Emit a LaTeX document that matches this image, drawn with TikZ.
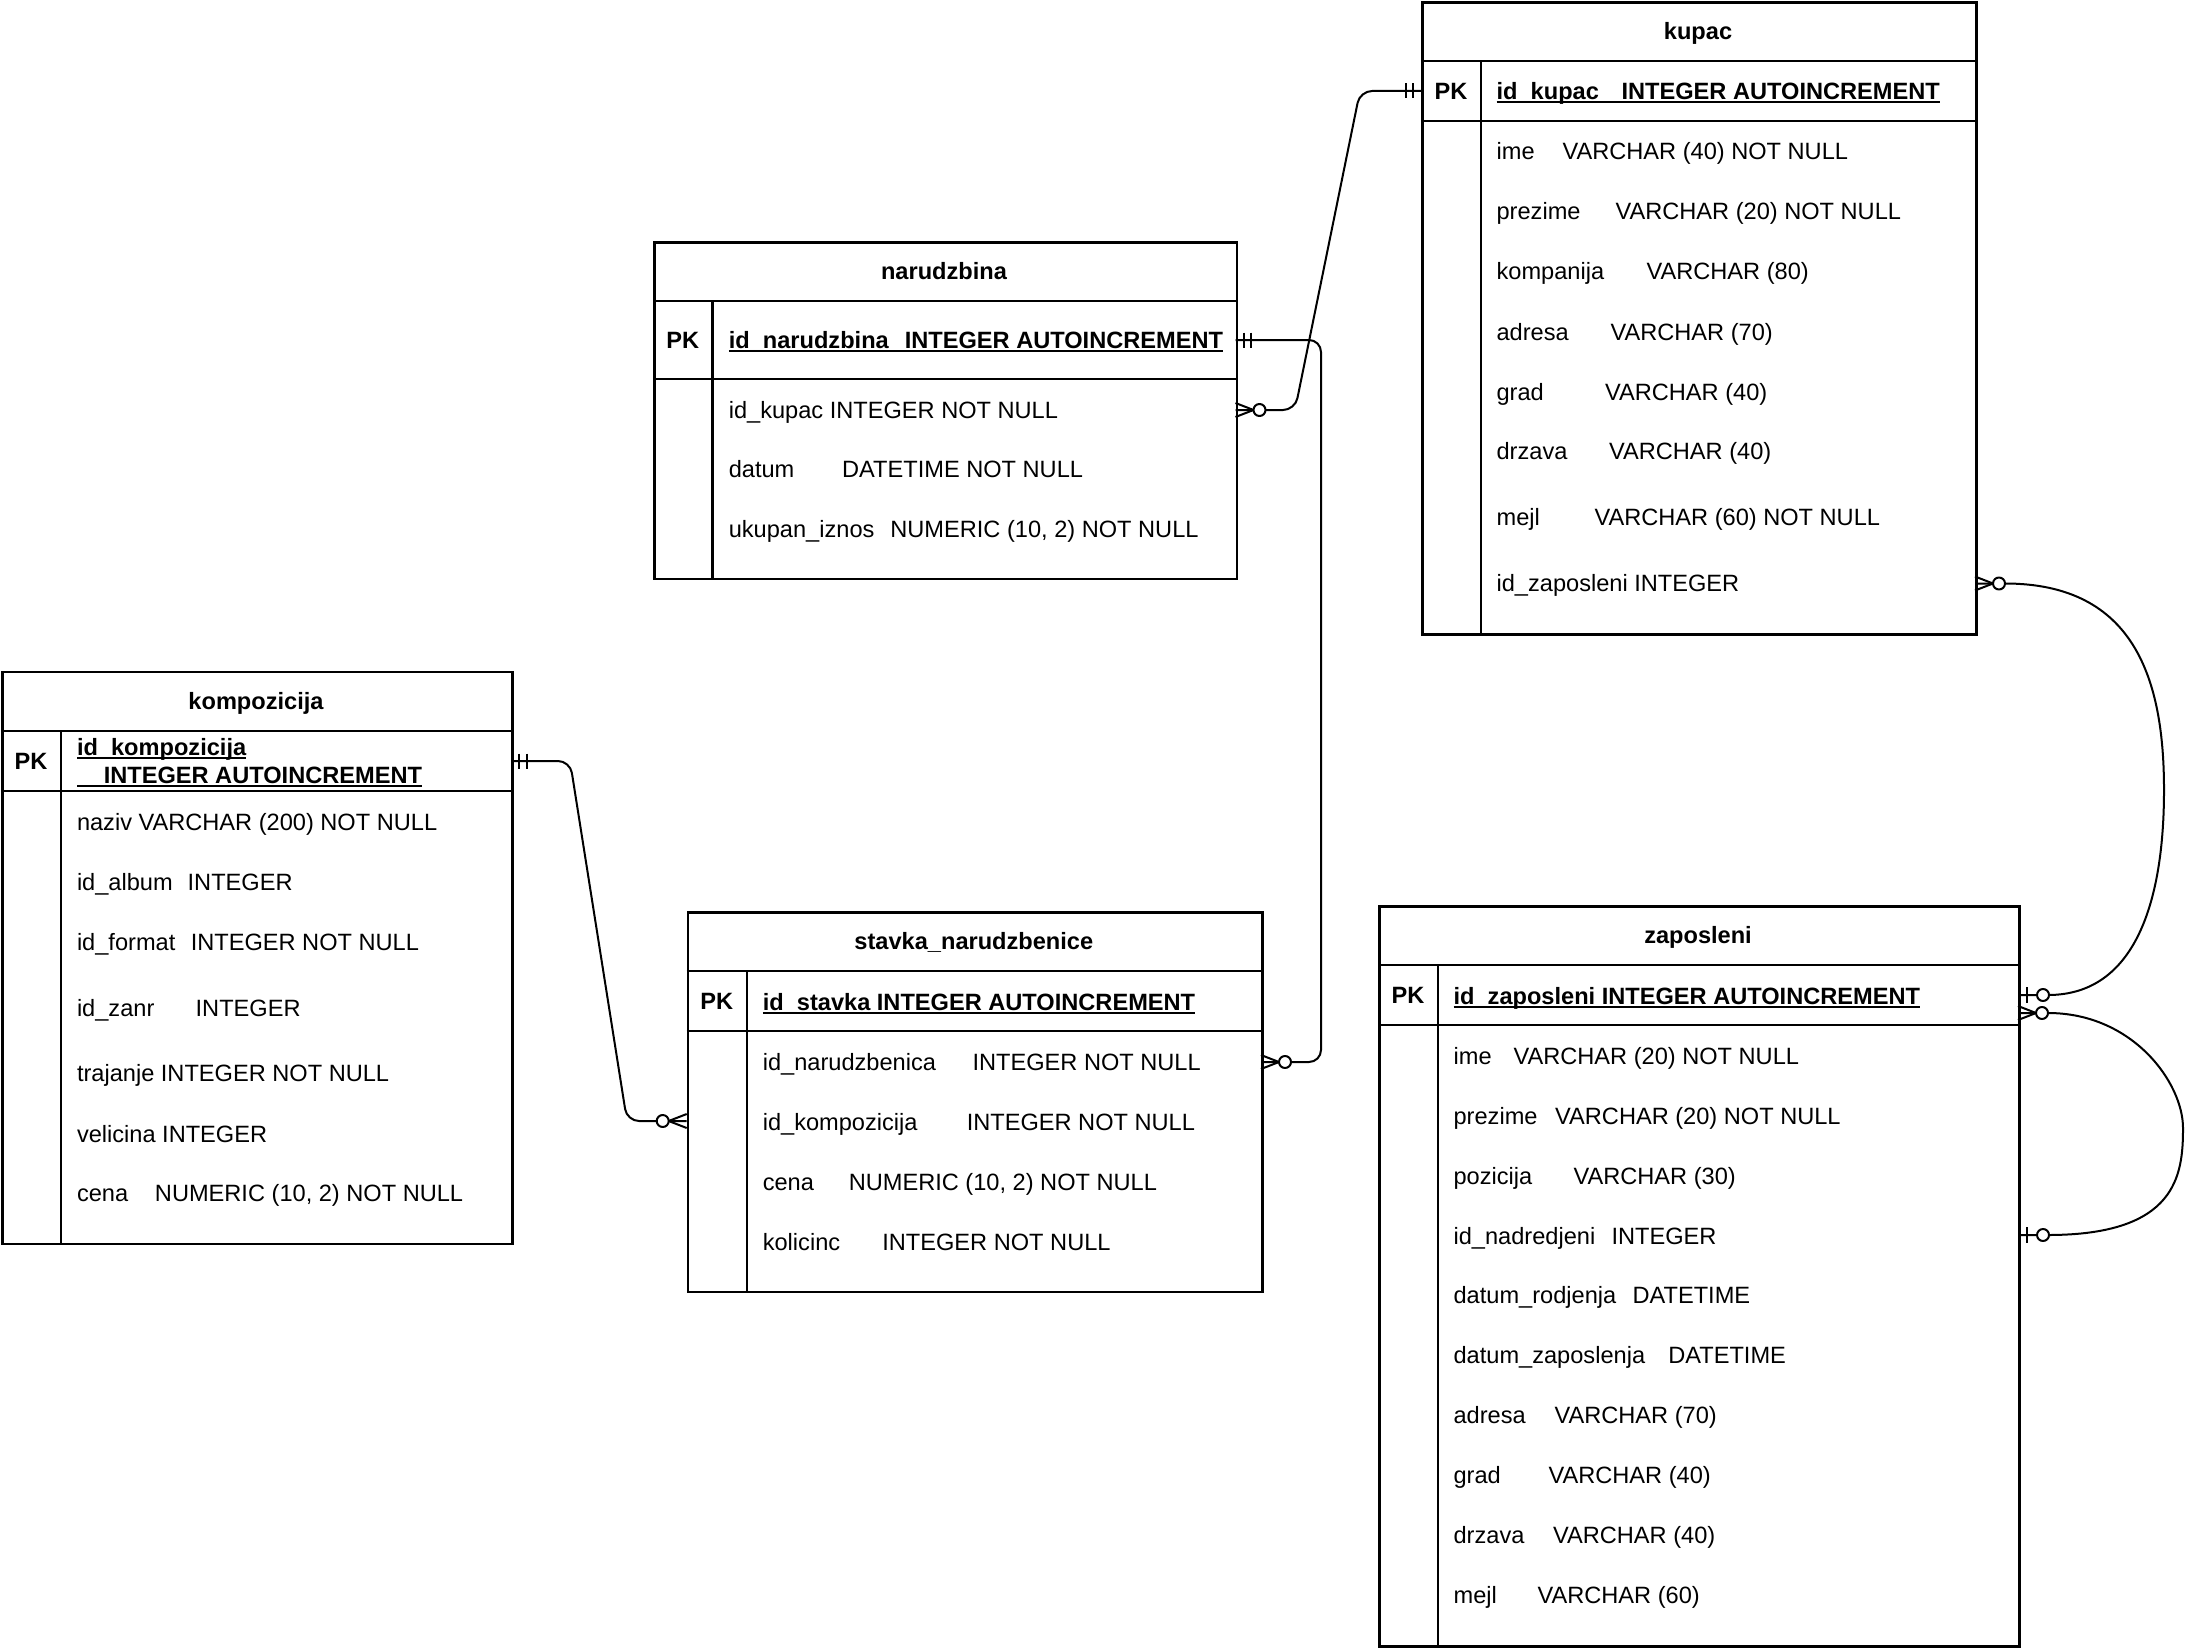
\documentclass[tikz,border=0pt]{standalone}
\usepackage{fontspec}
\setmainfont{Liberation Sans}
\usetikzlibrary{calc}
\newcommand\fsz{\fontsize{23.6}{28.3}\selectfont}
\newcommand\pkul[1]{\setbox0=\hbox{#1}\rlap{\rule[-3.6pt]{\wd0}{1.8pt}}\box0}
\newcommand\mandone[2]{%
  \draw[conn] ($(#1)+(#2*8,-7.5)$) -- ++(0,15);
  \draw[conn] ($(#1)+(#2*15.5,-7.5)$) -- ++(0,15);}
\newcommand\zeromany[2]{%
  \draw[conn] ($(#1)+(0,-7)$) -- ($(#1)+(#2*18,0)$) -- ($(#1)+(0,7)$);
  \draw[conn,fill=white] ($(#1)+(#2*24,0)$) circle[radius=6pt];}
\newcommand\zeroone[2]{%
  \draw[conn] ($(#1)+(#2*9,-8)$) -- ++(0,16);
  \draw[conn,fill=white] ($(#1)+(#2*25,0)$) circle[radius=6pt];}
\begin{document}
\begin{tikzpicture}[x=1pt,y=-1pt,
  tbl/.style={draw, line width=2.6pt, rectangle, inner sep=0pt, anchor=north west},
  sep/.style={line width=2.4pt},
  conn/.style={line width=2pt, line join=round},
  cell/.style={anchor=base west, inner sep=0pt, font=\fsz},
  hdr/.style={anchor=base, inner sep=0pt, font=\fsz\bfseries}]
\useasboundingbox[fill=white] (0,0) rectangle (2186,1648);

% ---------- connection points ----------
\coordinate (nK) at (1235.5,410);
\coordinate (kPK) at (1421,91);
\coordinate (nPK) at (1235.5,340);
\coordinate (sN) at (1261,1062);
\coordinate (koPK) at (511,761);
\coordinate (sK) at (686.7,1121);
\coordinate (kZ) at (1975,583.5);
\coordinate (zPK1) at (2018,995);
\coordinate (zPK2) at (2018,1013);
\coordinate (zN) at (2018,1235);

% ---------- connectors ----------
\draw[conn, rounded corners=12pt] (nK) -- (1295,410) -- (1360,91) -- (kPK);
\draw[conn, rounded corners=12pt] (nPK) -- (1321,340) -- (1321,1062) -- (sN);
\draw[conn, rounded corners=12pt] (koPK) -- (570,761) -- (627,1121) -- (sK);
\draw[conn] (kZ) -- (2005,583.5) .. controls (2135,583.5) and (2164,680) .. (2164,790)
  .. controls (2164,900) and (2136,995) .. (2048,995) -- (zPK1);
\draw[conn] (zPK2) -- (2048,1013) .. controls (2133,1013) and (2183,1083) .. (2183,1128)
  .. controls (2183,1175) and (2177,1235) .. (2048,1235) -- (zN);

% ---------- markers ----------
\zeromany{nK}{1}
\mandone{kPK}{-1}
\mandone{nPK}{1}
\zeromany{sN}{1}
\mandone{koPK}{1}
\zeromany{sK}{-1}
\zeromany{kZ}{1}
\zeroone{zPK1}{1}
\zeromany{zPK2}{1}
\zeroone{zN}{1}

% ---------- kupac ----------
\node[tbl, minimum width=554pt, minimum height=631.5pt] (kupac) at (1421,1.5) {};
\draw[sep] (1421,61) -- (1975,61);
\draw[sep] (1421,121) -- (1975,121);
\draw[sep] (1481,61) -- (1481,633);
\node[hdr] (kuH) at (1698,39.75) {kupac};
\node[hdr] (kuPK) at (1451,99.5) {PK};
\node[cell] (ku0) at (1496.4,99.5) {\bfseries\pkul{\makebox[125pt][l]{id\_kupac}INTEGER AUTOINCREMENT}};
\node[cell] (ku1) at (1496.4,159.5) {\makebox[66pt][l]{ime}VARCHAR (40) NOT NULL};
\node[cell] (ku2) at (1496.4,219.5) {\makebox[119pt][l]{prezime}VARCHAR (20) NOT NULL};
\node[cell] (ku3) at (1496.4,279.5) {\makebox[150pt][l]{kompanija}VARCHAR (80)};
\node[cell] (ku4) at (1496.4,340) {\makebox[114pt][l]{adresa}VARCHAR (70)};
\node[cell] (ku5) at (1496.4,400) {\makebox[108.5pt][l]{grad}VARCHAR (40)};
\node[cell] (ku6) at (1496.4,459.5) {\makebox[112.5pt][l]{drzava}VARCHAR (40)};
\node[cell] (ku7) at (1496.4,525) {\makebox[98pt][l]{mejl}VARCHAR (60) NOT NULL};
\node[cell] (ku8) at (1496.4,591.5) {id\_zaposleni INTEGER};

% ---------- narudzbina ----------
\node[tbl, minimum width=582.5pt, minimum height=336.7pt] (narudzbina) at (653,241) {};
\draw[sep] (653,301) -- (1235.5,301);
\draw[sep] (653,379) -- (1235.5,379);
\draw[sep] (712.5,301) -- (712.5,577.7);
\node[hdr] (naH) at (944,279.5) {narudzbina};
\node[hdr] (naPK) at (682.75,348.5) {PK};
\node[cell] (na0) at (728.6,348.5) {\bfseries\pkul{\makebox[176pt][l]{id\_narudzbina}INTEGER AUTOINCREMENT}};
\node[cell] (na1) at (728.6,418.5) {id\_kupac INTEGER NOT NULL};
\node[cell] (na2) at (728.6,477.5) {\makebox[113.4pt][l]{datum}DATETIME NOT NULL};
\node[cell] (na3) at (728.6,537.5) {\makebox[161.6pt][l]{ukupan\_iznos}NUMERIC (10, 2) NOT NULL};

% ---------- kompozicija ----------
\node[tbl, minimum width=510pt, minimum height=571.8pt] (kompozicija) at (1,670.7) {};
\draw[sep] (1,730.8) -- (511,730.8);
\draw[sep] (1,790.9) -- (511,790.9);
\draw[sep] (61,730.8) -- (61,1242.5);
\node[hdr] (koH) at (256,709.25) {kompozicija};
\node[hdr] (koPKl) at (31,769.35) {PK};
\node[cell] (ko0a) at (76.8,755.5) {\bfseries\pkul{id\_kompozicija}};
\node[cell] (ko0b) at (76.8,783.5) {\bfseries\pkul{\kern26.8pt INTEGER AUTOINCREMENT}};
\node[cell] (ko1) at (76.8,830) {naziv VARCHAR (200) NOT NULL};
\node[cell] (ko2) at (76.8,890.5) {\makebox[110.7pt][l]{id\_album}INTEGER};
\node[cell] (ko3) at (76.8,950.5) {\makebox[113.8pt][l]{id\_format}INTEGER NOT NULL};
\node[cell] (ko4) at (76.8,1016) {\makebox[118.7pt][l]{id\_zanr}INTEGER};
\node[cell] (ko5) at (76.8,1081.5) {trajanje INTEGER NOT NULL};
\node[cell] (ko6) at (76.8,1142.5) {velicina INTEGER};
\node[cell] (ko7) at (76.8,1201.5) {\makebox[78pt][l]{cena}NUMERIC (10, 2) NOT NULL};

% ---------- stavka_narudzbenice ----------
\node[tbl, minimum width=574.3pt, minimum height=379.7pt] (stavka) at (686.7,911) {};
\draw[sep] (686.7,971) -- (1261,971);
\draw[sep] (686.7,1031) -- (1261,1031);
\draw[sep] (747,971) -- (747,1290.7);
\node[hdr] (stH) at (973.85,949.5) {stavka\_narudzbenice};
\node[hdr] (stPK) at (716.85,1009.5) {PK};
\node[cell] (st0) at (762.6,1010) {\bfseries\pkul{id\_stavka INTEGER AUTOINCREMENT}};
\node[cell] (st1) at (762.6,1070.5) {\makebox[209.8pt][l]{id\_narudzbenica}INTEGER NOT NULL};
\node[cell] (st2) at (762.6,1130) {\makebox[204pt][l]{id\_kompozicija}INTEGER NOT NULL};
\node[cell] (st3) at (762.6,1190) {\makebox[86pt][l]{cena}NUMERIC (10, 2) NOT NULL};
\node[cell] (st4) at (762.6,1250) {\makebox[119.6pt][l]{kolicinc}INTEGER NOT NULL};

% ---------- zaposleni ----------
\node[tbl, minimum width=640pt, minimum height=740pt] (zaposleni) at (1378,905) {};
\draw[sep] (1378,965) -- (2018,965);
\draw[sep] (1378,1025) -- (2018,1025);
\draw[sep] (1438,965) -- (1438,1645);
\node[hdr] (zaH) at (1698,943.5) {zaposleni};
\node[hdr] (zaPK) at (1408,1003.5) {PK};
\node[cell] (za0) at (1453.4,1004) {\bfseries\pkul{id\_zaposleni INTEGER AUTOINCREMENT}};
\node[cell] (za1) at (1453.4,1064.5) {\makebox[60pt][l]{ime}VARCHAR (20) NOT NULL};
\node[cell] (za2) at (1453.4,1124.5) {\makebox[101.6pt][l]{prezime}VARCHAR (20) NOT NULL};
\node[cell] (za3) at (1453.4,1184.5) {\makebox[120pt][l]{pozicija}VARCHAR (30)};
\node[cell] (za4) at (1453.4,1244.5) {\makebox[158pt][l]{id\_nadredjeni}INTEGER};
\node[cell] (za5) at (1453.4,1303.5) {\makebox[179pt][l]{datum\_rodjenja}DATETIME};
\node[cell] (za6) at (1453.4,1363.5) {\makebox[214.8pt][l]{datum\_zaposlenja}DATETIME};
\node[cell] (za7) at (1453.4,1423.5) {\makebox[101pt][l]{adresa}VARCHAR (70)};
\node[cell] (za8) at (1453.4,1483.5) {\makebox[95pt][l]{grad}VARCHAR (40)};
\node[cell] (za9) at (1453.4,1543.5) {\makebox[99.5pt][l]{drzava}VARCHAR (40)};
\node[cell] (za10) at (1453.4,1603.5) {\makebox[84pt][l]{mejl}VARCHAR (60)};
\end{tikzpicture}
\end{document}
